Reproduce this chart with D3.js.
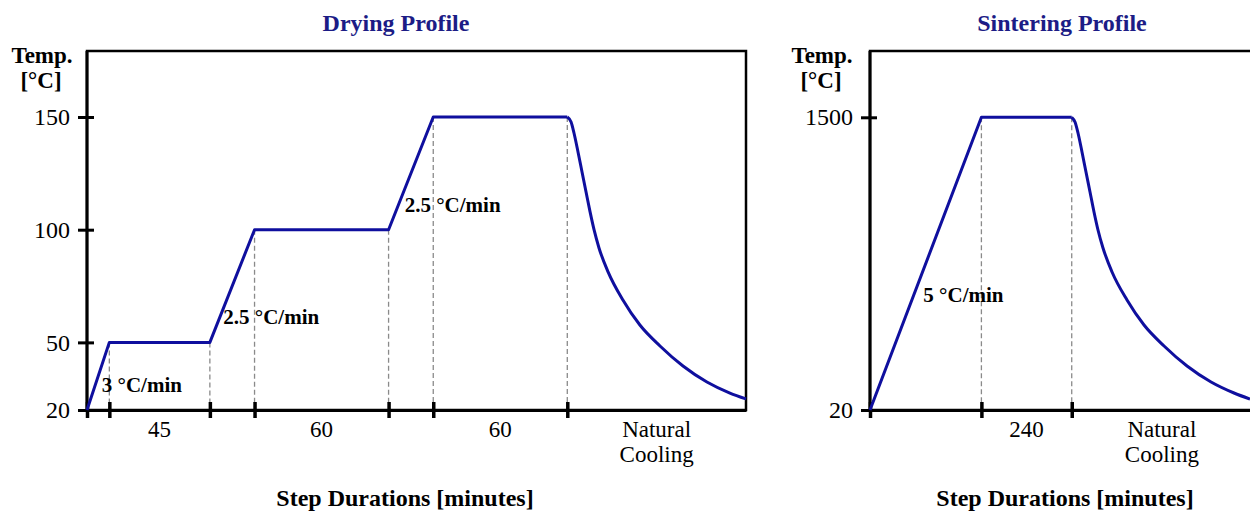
<!DOCTYPE html>
<html>
<head>
<meta charset="utf-8">
<script src="https://cdn.jsdelivr.net/npm/d3@7/dist/d3.min.js"></script>
<style>
  body { margin: 0; background: #fff; }
  text { font-family: "Liberation Serif", "Times New Roman", serif; }
</style>
</head>
<body>
<script>
// ---- drying profile (minutes, °C) ----
const dryTime = [0, 10, 55, 75, 135, 155, 215];
const dryTemp = [20, 50, 50, 100, 100, 150, 150];
const dryCoolTime = [215, 216.7, 218, 219.8, 221.6, 223.4, 225.2, 227, 229.2, 233.3, 239.9, 247.5, 256.5, 266.8, 277.5, 287.8, 295];
const dryCoolTemp = [150, 147.8, 142.9, 134.5, 125.6, 116.7, 107.9, 99.9, 91.9, 81.2, 68.8, 57.7, 48.4, 39.5, 32.4, 27.5, 24.9];
const dryYTicks = [20, 50, 100, 150];
const dryBounds = [0, 10, 55, 75, 135, 155, 215, 295];
const dryStepLabels = ["", "45", "", "60", "", "60", "Natural\nCooling"];
const dryRates = ["3 °C/min", "2.5 °C/min", "2.5 °C/min"];
const dryRateTime = [6.6, 61, 142.2];
const dryRateTemp = [28, 58.1, 107.8];

// ---- sintering profile (minutes, °C) ----
const sinTime = [0, 296, 536];
const sinTemp = [20, 1500, 1500];
const sinCoolTime = [536, 544.7, 552.7, 563.3, 573.9, 584.6, 595.2, 605.8, 619.1, 643.1, 682.9, 728.1, 781.3, 842.4, 906.2, 967.2, 1009.7];
const sinCoolTemp = [1500, 1476, 1420.6, 1324.6, 1223.4, 1122.3, 1021.2, 930.2, 839.1, 717.8, 576.2, 449.8, 343.6, 242.5, 161.6, 106, 75.6];
const sinYTicks = [20, 1500];
const sinBounds = [0, 296, 536, 1015];
const sinStepLabels = ["", "240", "Natural\nCooling"];
const sinRates = ["5 °C/min"];
const sinRateTime = [141.8];
const sinRateTemp = [566];

const lineColor = "#0f0f9e";
const titleColor = "#1c1c86";
const fontSize = 24;

var svg = d3.select("body").append("svg")
    .attr("width", 1250)
    .attr("height", 513);

function drawPanel(p) {
    var g = svg.append("g");
    var x = d3.scaleLinear().domain([0, p.bounds[p.bounds.length - 1]]).range([p.left, p.right]);
    var y = d3.scaleLinear().domain([p.yTicks[0], p.yTicks[p.yTicks.length - 1]]).range([p.bottom, p.yTopTick]);

    // frame
    g.append("rect")
        .attr("x", p.left).attr("y", p.top)
        .attr("width", p.right - p.left).attr("height", p.bottom - p.top)
        .attr("fill", "none").attr("stroke", "#000").attr("stroke-width", 2.5);

    // dashed guides from each corner of the profile down to the axis
    g.selectAll(".guide").data(p.time.slice(1)).enter().append("line")
        .attr("class", "guide")
        .attr("x1", d => x(d)).attr("x2", d => x(d))
        .attr("y1", (d, i) => y(p.temp[i + 1])).attr("y2", p.bottom)
        .attr("stroke", "#8a8a8a").attr("stroke-width", 1.3)
        .attr("stroke-dasharray", "5,3");

    // y axis
    var yAxis = d3.axisLeft(y).tickValues(p.yTicks).tickSize(0).tickPadding(17).tickFormat(d3.format("d"));
    var ya = g.append("g").attr("transform", "translate(" + p.left + ",0)").call(yAxis);
    ya.select(".domain").attr("stroke-width", 3).attr("d", "M0," + p.top + "V" + p.bottom);
    ya.selectAll(".tick line").attr("x1", -9).attr("x2", 7).attr("stroke-width", 3);
    ya.selectAll(".tick text")
        .attr("font-family", "Liberation Serif").attr("font-size", fontSize).attr("fill", "#000");

    // x axis: ticks only at step boundaries
    var xAxis = d3.axisBottom(x).tickValues(p.time).tickSize(0).tickFormat("");
    var xa = g.append("g").attr("transform", "translate(0," + p.bottom + ")").call(xAxis);
    xa.select(".domain").attr("stroke-width", 3);
    xa.selectAll(".tick line").attr("y1", -8).attr("y2", 8).attr("stroke-width", 3.5);

    // step duration labels centred between boundaries
    var labels = g.selectAll(".step").data(p.stepLabels).enter().append("text")
        .attr("class", "step")
        .attr("text-anchor", "middle")
        .attr("font-size", 23)
        .attr("fill", "#000")
        .attr("y", p.bottom + 27);
    labels.each(function(d, i) {
        var cx = (x(p.bounds[i]) + x(p.bounds[i + 1])) / 2;
        d.split("\n").forEach(function(s, k) {
            d3.select(this).append("tspan")
                .attr("x", cx)
                .attr("dy", k === 0 ? 0 : 25)
                .text(s);
        }, this);
    });

    // temperature profile
    var line = d3.line().x(d => x(d[0])).y(d => y(d[1]));
    g.append("path")
        .datum(d3.zip(p.time, p.temp))
        .attr("d", line)
        .attr("fill", "none").attr("stroke", lineColor)
        .attr("stroke-width", 3).attr("stroke-linejoin", "round");
    g.append("path")
        .datum(d3.zip(p.coolTime, p.coolTemp))
        .attr("d", line.curve(d3.curveMonotoneX))
        .attr("fill", "none").attr("stroke", lineColor)
        .attr("stroke-width", 3).attr("stroke-linejoin", "round");

    // heating rate notes
    g.selectAll(".rate").data(p.rates).enter().append("text")
        .attr("class", "rate")
        .attr("x", (d, i) => x(p.rateTime[i]))
        .attr("y", (d, i) => y(p.rateTemp[i]))
        .attr("font-size", 21).attr("font-weight", "bold").attr("fill", "#000")
        .text(d => d);

    // titles
    g.append("text")
        .attr("x", p.titleX).attr("y", 31)
        .attr("text-anchor", "middle")
        .attr("font-size", fontSize).attr("font-weight", "bold").attr("fill", titleColor)
        .text(p.title);

    g.append("text")
        .attr("x", p.xLabelX).attr("y", 506)
        .attr("text-anchor", "middle")
        .attr("font-size", fontSize).attr("font-weight", "bold").attr("fill", "#000")
        .text("Step Durations [minutes]");

    g.append("text")
        .attr("x", p.yLabelX).attr("y", 63)
        .attr("text-anchor", "middle")
        .attr("font-size", 23).attr("font-weight", "bold").attr("fill", "#000")
        .text("Temp.");
    g.append("text")
        .attr("x", p.yLabelX - 1).attr("y", 88)
        .attr("text-anchor", "middle")
        .attr("font-size", 23).attr("font-weight", "bold").attr("fill", "#000")
        .text("[°C]");
}

drawPanel({
    title: "Drying Profile", titleX: 396, xLabelX: 405, yLabelX: 42,
    left: 87, right: 746, top: 51, bottom: 410, yTopTick: 117,
    time: dryTime, temp: dryTemp, coolTime: dryCoolTime, coolTemp: dryCoolTemp,
    yTicks: dryYTicks, bounds: dryBounds, stepLabels: dryStepLabels,
    rates: dryRates, rateTime: dryRateTime, rateTemp: dryRateTemp
});

drawPanel({
    title: "Sintering Profile", titleX: 1062, xLabelX: 1065, yLabelX: 822,
    left: 870, right: 1252, top: 51, bottom: 410, yTopTick: 117.3,
    time: sinTime, temp: sinTemp, coolTime: sinCoolTime, coolTemp: sinCoolTemp,
    yTicks: sinYTicks, bounds: sinBounds, stepLabels: sinStepLabels,
    rates: sinRates, rateTime: sinRateTime, rateTemp: sinRateTemp
});
</script>
</body>
</html>
